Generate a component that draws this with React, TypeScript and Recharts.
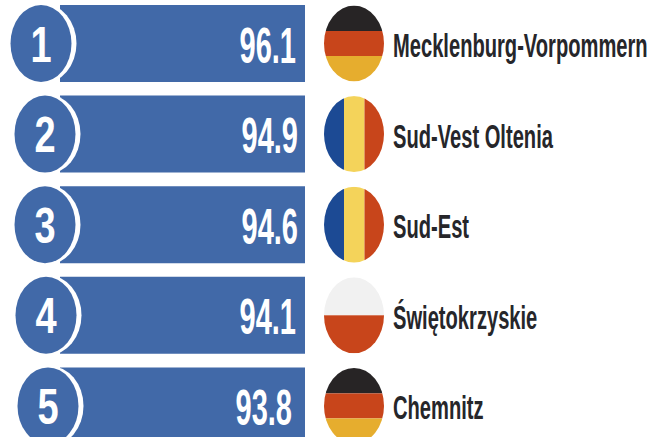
import { BarChart, Bar, XAxis, YAxis, LabelList } from 'recharts';

const ranks = [1, 2, 3, 4, 5];
const regions = ['Mecklenburg-Vorpommern', 'Sud-Vest Oltenia', 'Sud-Est', 'Świętokrzyskie', 'Chemnitz'];
const scores = [96.1, 94.9, 94.6, 94.1, 93.8];
const countries = ['germany', 'romania', 'romania', 'poland', 'germany'];

// every bar in the source is the same length, the score is only printed on it
const fullBar = [100, 100, 100, 100, 100];

const chartData = ranks.map((rank, i) => ({
  rank,
  region: regions[i],
  score: scores[i],
  country: countries[i],
  span: fullBar[i],
}));

const BLUE = '#4169a8';
const NARROW = '"Liberation Sans Narrow", "Liberation Sans", sans-serif';

// the badges and numbers wander a little from row to row in the original
const badgeShift = [0, 4, 4, 5, 7];
const scoreShift = [0, 2, 2, 0, -4];

const RankBadge = ({ x, y, height, index, value }: any) => {
  const cx = x - 19 + badgeShift[index];
  const cy = y + height / 2;
  return (
    <g>
      <ellipse cx={cx + 2} cy={cy} rx={33.5} ry={40} fill="#fff" />
      <ellipse cx={cx} cy={cy} rx={30.5} ry={38.5} fill={BLUE} />
      <text
        transform={`translate(${cx},${cy + 18}) scale(0.76,1)`}
        textAnchor="middle"
        fontFamily='"Liberation Sans", sans-serif'
        fontWeight={700}
        fontSize={50}
        fill="#fff"
      >
        {value}
      </text>
    </g>
  );
};

const ScoreText = ({ x, y, width, height, index, value }: any) => (
  <text
    transform={`translate(${x + width - 9 + scoreShift[index]},${y + height / 2 + 19}) scale(0.58,1)`}
    textAnchor="end"
    fontFamily={NARROW}
    fontWeight={700}
    fontSize={50}
    fill="#fff"
  >
    {value.toFixed(1)}
  </text>
);

const Flag = ({ x, y, width, height, index, value }: any) => {
  const cx = x + width + 49;
  const cy = y + height / 2;
  const left = cx - 30;
  const top = cy - 38;
  const clipId = `flag-${index}`;
  let stripes = null;
  if (value === 'germany') {
    stripes = (
      <>
        <rect x={left} y={top} width={60} height={25.5} fill="#272425" />
        <rect x={left} y={top + 25.5} width={60} height={25} fill="#c8451b" />
        <rect x={left} y={top + 50.5} width={60} height={25.5} fill="#e6ad2e" />
      </>
    );
  } else if (value === 'romania') {
    stripes = (
      <>
        <rect x={left} y={top} width={20} height={76} fill="#1c4a94" />
        <rect x={left + 20} y={top} width={20.5} height={76} fill="#f4d35a" />
        <rect x={left + 40.5} y={top} width={20} height={76} fill="#c8451b" />
      </>
    );
  } else {
    stripes = (
      <>
        <rect x={left} y={top} width={60} height={38} fill="#f1f1f1" />
        <rect x={left} y={top + 38} width={60} height={38} fill="#c8451b" />
      </>
    );
  }
  return (
    <g>
      <clipPath id={clipId}>
        <ellipse cx={cx} cy={cy} rx={30} ry={38} />
      </clipPath>
      <g clipPath={`url(#${clipId})`}>{stripes}</g>
    </g>
  );
};

const RegionText = ({ x, y, width, height, value }: any) => (
  <text
    transform={`translate(${x + width + 88},${y + height / 2 + 13.5}) scale(0.61,1)`}
    fontFamily={NARROW}
    fontWeight={700}
    fontSize={33}
    fill="#26262a"
  >
    {value}
  </text>
);

export default function App() {
  return (
    <div style={{ position: 'absolute', left: 0, top: 0, width: 651, height: 437, overflow: 'hidden', background: '#fff' }}>
      <div style={{ position: 'absolute', left: 0, top: -2 }}>
        <BarChart
          layout="vertical"
          width={651}
          height={453}
          data={chartData}
          margin={{ top: 0, right: 346, bottom: 0, left: 60 }}
          barSize={77}
        >
          <XAxis type="number" domain={[0, 100]} hide />
          <YAxis type="category" dataKey="rank" hide />
          <Bar dataKey="span" fill={BLUE} isAnimationActive={false}>
            <LabelList dataKey="rank" content={RankBadge} />
            <LabelList dataKey="score" content={ScoreText} />
            <LabelList dataKey="country" content={Flag} />
            <LabelList dataKey="region" content={RegionText} />
          </Bar>
        </BarChart>
      </div>
    </div>
  );
}
